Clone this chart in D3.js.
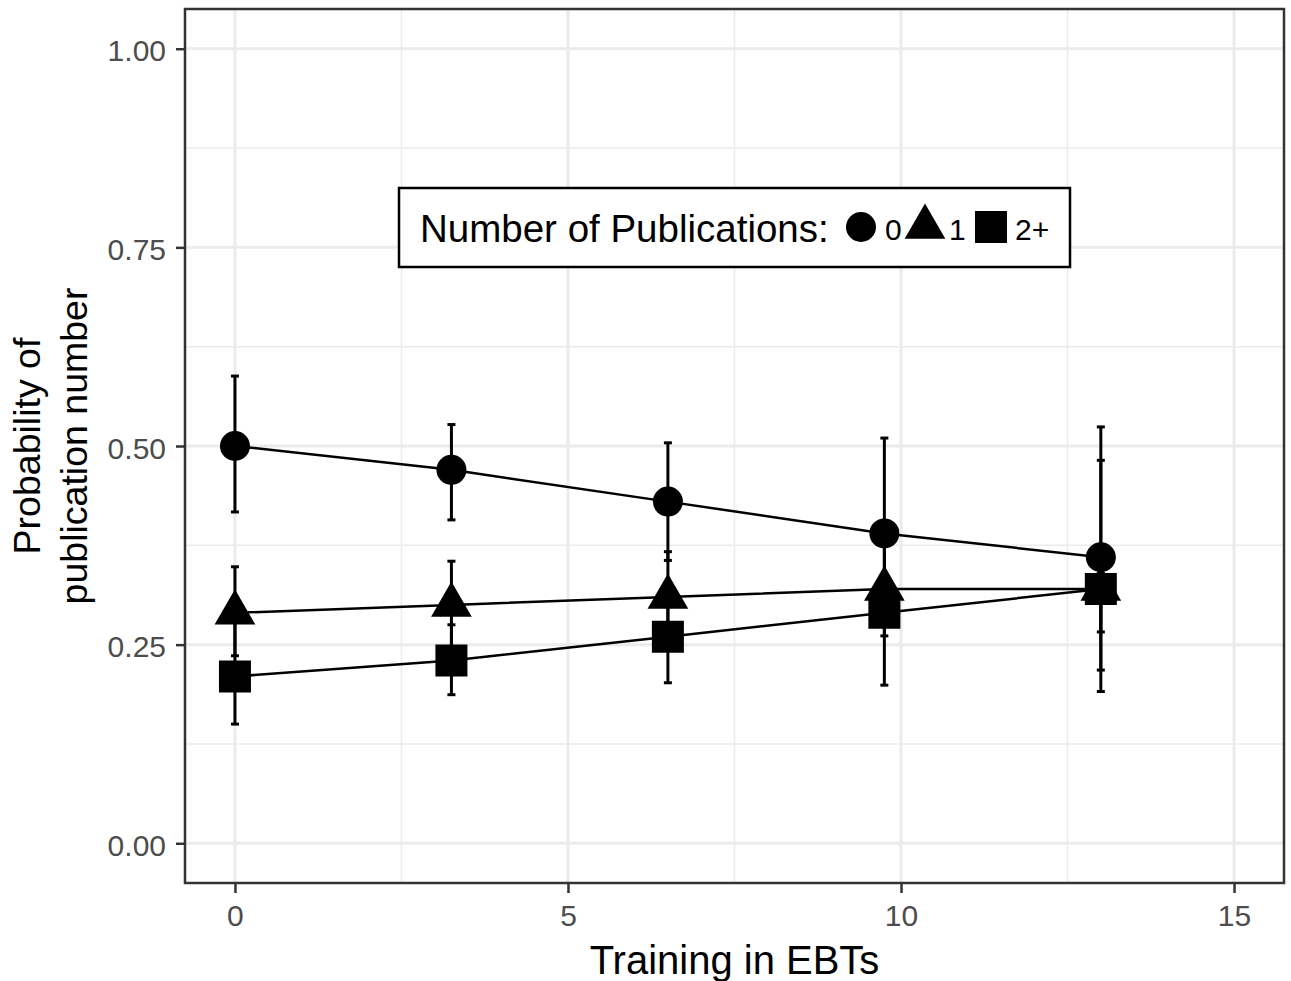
<!DOCTYPE html>
<html>
<head>
<meta charset="utf-8">
<script src="https://d3js.org/d3.v7.min.js"></script>
<style>
    body { margin: 0; background: #fff; }
    text { font-family: "Liberation Sans", Arial, sans-serif; }
</style>
</head>
<body>
<svg class="graph-container"></svg>
<script>

    var training = [0, 3.25, 6.5, 9.75, 13];

    var pubs0 = [0.50, 0.47, 0.43, 0.39, 0.36];
    var pubs0Low = [0.417, 0.407, 0.356, 0.28, 0.218];
    var pubs0High = [0.588, 0.527, 0.504, 0.51, 0.524];

    var pubs1 = [0.29, 0.30, 0.31, 0.32, 0.32];
    var pubs1Low = [0.236, 0.245, 0.25, 0.261, 0.191];
    var pubs1High = [0.348, 0.355, 0.367, 0.38, 0.482];

    var pubs2 = [0.21, 0.23, 0.26, 0.29, 0.32];
    var pubs2Low = [0.15, 0.187, 0.202, 0.199, 0.266];
    var pubs2High = [0.278, 0.275, 0.31, 0.33, 0.37];

    var groupLabels = ['0', '1', '2+'];
    var xTicks = [0, 5, 10, 15];
    var xMinorTicks = [2.5, 7.5, 12.5];
    var yTicks = [0, 0.25, 0.5, 0.75, 1];
    var yMinorTicks = [0.125, 0.375, 0.625, 0.875];

    var w = 1291, h = 981;

    var margin = { top: 9, right: 7, bottom: 98, left: 185 };
    var width = w - margin.left - margin.right;
    var height = h - margin.top - margin.bottom;

    var x = d3.scaleLinear().domain([-0.75, 15.75]).range([0, width]);
    var y = d3.scaleLinear().domain([-0.05, 1.05]).range([height, 0]);

    var shapes = [
        d3.symbol().type(d3.symbolCircle).size(Math.PI * 15 * 15),
        d3.symbol().type(d3.symbolTriangle).size(717),
        d3.symbol().type(d3.symbolSquare).size(32 * 32)
    ];

    var series = [
        { label: groupLabels[0], mid: pubs0, low: pubs0Low, high: pubs0High, shape: shapes[0] },
        { label: groupLabels[1], mid: pubs1, low: pubs1Low, high: pubs1High, shape: shapes[1] },
        { label: groupLabels[2], mid: pubs2, low: pubs2Low, high: pubs2High, shape: shapes[2] }
    ];

    var svg = d3.select('.graph-container')
        .attr('width', w)
        .attr('height', h);

    var graph = svg.append('g')
        .attr('transform', 'translate(' + margin.left + ',' + margin.top + ')');

    // grid
    graph.selectAll('.minor-x').data(xMinorTicks).enter().append('line')
        .attr('x1', function (d) { return x(d); }).attr('x2', function (d) { return x(d); })
        .attr('y1', 0).attr('y2', height)
        .attr('stroke', '#ebebeb').attr('stroke-width', 1.5);
    graph.selectAll('.minor-y').data(yMinorTicks).enter().append('line')
        .attr('y1', function (d) { return y(d); }).attr('y2', function (d) { return y(d); })
        .attr('x1', 0).attr('x2', width)
        .attr('stroke', '#ebebeb').attr('stroke-width', 1.5);
    graph.selectAll('.major-x').data(xTicks).enter().append('line')
        .attr('x1', function (d) { return x(d); }).attr('x2', function (d) { return x(d); })
        .attr('y1', 0).attr('y2', height)
        .attr('stroke', '#ebebeb').attr('stroke-width', 3);
    graph.selectAll('.major-y').data(yTicks).enter().append('line')
        .attr('y1', function (d) { return y(d); }).attr('y2', function (d) { return y(d); })
        .attr('x1', 0).attr('x2', width)
        .attr('stroke', '#ebebeb').attr('stroke-width', 3);

    // lines
    var line = d3.line()
        .x(function (d, i) { return x(training[i]); })
        .y(function (d) { return y(d); });

    series.forEach(function (s) {
        graph.append('path')
            .attr('d', line(s.mid))
            .attr('fill', 'none')
            .attr('stroke', '#000')
            .attr('stroke-width', 2.5);
    });

    // error bars
    series.forEach(function (s) {
        var bars = graph.append('g');
        training.forEach(function (t, i) {
            bars.append('line')
                .attr('x1', x(t)).attr('x2', x(t))
                .attr('y1', y(s.low[i])).attr('y2', y(s.high[i]))
                .attr('stroke', '#000').attr('stroke-width', 3);
            [s.low[i], s.high[i]].forEach(function (v) {
                bars.append('line')
                    .attr('x1', x(t) - 4).attr('x2', x(t) + 4)
                    .attr('y1', y(v)).attr('y2', y(v))
                    .attr('stroke', '#000').attr('stroke-width', 3);
            });
        });
    });

    // points
    series.forEach(function (s) {
        graph.selectAll(null).data(s.mid).enter().append('path')
            .attr('d', s.shape())
            .attr('transform', function (d, i) { return 'translate(' + x(training[i]) + ',' + y(d) + ')'; })
            .attr('fill', '#000');
    });

    // panel border
    graph.append('rect')
        .attr('width', width).attr('height', height)
        .attr('fill', 'none')
        .attr('stroke', '#333').attr('stroke-width', 2.5);

    // axes
    var xAxis = d3.axisBottom(x).tickValues(xTicks).tickSize(10).tickPadding(12);
    var yAxis = d3.axisLeft(y).tickValues(yTicks).tickFormat(d3.format('.2f')).tickSize(9).tickPadding(10);

    var gx = graph.append('g')
        .attr('transform', 'translate(0,' + height + ')')
        .call(xAxis);
    var gy = graph.append('g').call(yAxis);

    [gx, gy].forEach(function (g) {
        g.select('.domain').remove();
        g.selectAll('.tick line').attr('stroke', '#333').attr('stroke-width', 2.5);
        g.selectAll('.tick text')
            .attr('fill', '#4d4d4d')
            .style('font-size', '30px')
            .style('font-family', '"Liberation Sans", Arial, sans-serif');
    });
    gy.selectAll('.tick text').attr('dy', '0.4em');

    // titles
    svg.append('text')
        .attr('x', margin.left + width / 2)
        .attr('y', 974)
        .attr('text-anchor', 'middle')
        .style('font-size', '40px')
        .text('Training in EBTs');

    var yTitle = svg.append('text')
        .attr('transform', 'translate(40,' + (margin.top + height / 2) + ') rotate(-90)')
        .attr('text-anchor', 'middle')
        .style('font-size', '37.5px');
    yTitle.append('tspan').attr('x', 0).attr('y', 0).text('Probability of');
    yTitle.append('tspan').attr('x', 0).attr('y', 47).text('publication number');

    // legend
    var legend = svg.append('g');
    legend.append('rect')
        .attr('x', 399).attr('y', 188)
        .attr('width', 671).attr('height', 79)
        .attr('fill', '#fff')
        .attr('stroke', '#000').attr('stroke-width', 2.5);
    legend.append('text')
        .attr('x', 420).attr('y', 242)
        .style('font-size', '38.5px')
        .text('Number of Publications:');

    var keyX = [861, 925, 991];
    series.forEach(function (s, i) {
        legend.append('path')
            .attr('d', s.shape())
            .attr('transform', 'translate(' + keyX[i] + ',227)')
            .attr('fill', '#000');
        legend.append('text')
            .attr('x', keyX[i] + 24).attr('y', 240)
            .style('font-size', '30px')
            .text(s.label);
    });

</script>
</body>
</html>
